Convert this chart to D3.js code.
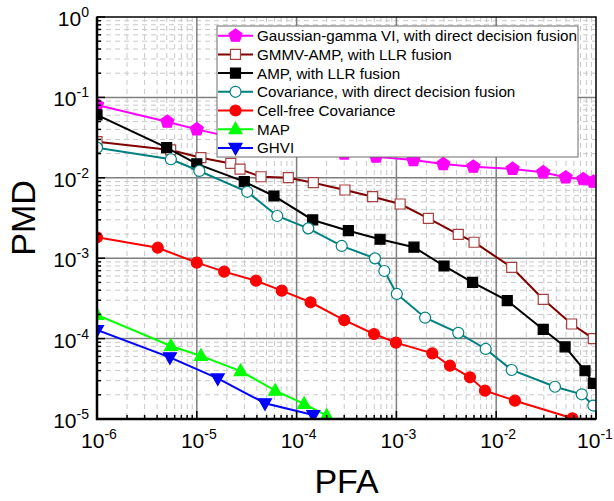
<!DOCTYPE html>
<html lang="en">
<head>
    <meta charset="UTF-8">
    <title>PMD vs PFA</title>
    <script src="https://d3js.org/d3.v7.min.js"></script>
    <style>
        body { margin: 0; background: #fff; }
        text { font-family: "Liberation Sans", Arial, sans-serif; }
    </style>
</head>
<body>
<script>
    const width  = 614;
    const height = 501;
    const mLeft = 97, mRight = 596, mTop = 17, mBottom = 419;

    // series: [PFA, PMD]
    const ggvi = [[1e-6,0.0805],[5.06e-6,0.0499],[1e-5,0.040],[2e-5,0.033],[4e-5,0.028],[8e-5,0.024],
                  [1.6e-4,0.022],[3e-4,0.020],[6.25e-4,0.0183],[1.48e-3,0.0166],[2.95e-3,0.0148],
                  [5.9e-3,0.01374],[0.0146,0.0129],[0.0296,0.0117],[0.0497,0.0101],[0.0746,0.0096],[0.094,0.00895]];
    const gmmv = [[1e-6,0.0281],[5.47e-6,0.0222],[1.1e-5,0.0178],[2.19e-5,0.0151],[2.71e-5,0.0128],
                  [4.4e-5,0.0103],[8.26e-5,0.01003],[1.47e-4,0.00869],[3.05e-4,0.00705],[5.78e-4,0.00582],
                  [1.09e-3,0.00472],[2.09e-3,3.13e-3],[4.17e-3,1.98e-3],[6.0e-3,1.58e-3],[0.0143,7.7e-4],
                  [0.0296,3.08e-4],[0.057,1.52e-4],[0.094,1.0e-4]];
    const amp  = [[1e-6,0.0604],[4.99e-6,0.0237],[1e-5,0.0149],[2.99e-5,8.95e-3],[5.93e-5,5.94e-3],
                  [1.45e-4,2.99e-3],[3.3e-4,2.2e-3],[6.86e-4,1.72e-3],[1.5e-3,1.37e-3],[3.0e-3,8.0e-4],
                  [5.8e-3,5.0e-4],[0.0129,2.96e-4],[0.0296,1.3e-4],[0.049,7.9e-5],[0.0776,3.98e-5],[0.094,2.78e-5]];
    const cov  = [[1e-6,0.0237],[5.5e-6,0.017],[1.06e-5,0.01216],[3.2e-5,6.7e-3],[6.4e-5,3.35e-3],
                  [1.31e-4,2.35e-3],[2.83e-4,1.42e-3],[6.1e-4,9.96e-4],[7.57e-4,6.93e-4],[1.01e-3,3.59e-4],
                  [1.94e-3,1.82e-4],[4.17e-3,1.18e-4],[7.85e-3,7.43e-5],[0.0143,4.07e-5],[0.0388,2.52e-5],
                  [0.072,2.03e-5],[0.094,1.47e-5]];
    const cfCov = [[1e-6,1.82e-3],[4.06e-6,1.35e-3],[1e-5,8.8e-4],[1.88e-5,6.8e-4],[3.92e-5,5.25e-4],
                   [7.1e-5,3.95e-4],[1.38e-4,2.83e-4],[3.0e-4,1.7e-4],[5.97e-4,1.14e-4],[9.9e-4,8.9e-5],
                   [2.29e-3,6.56e-5],[3.44e-3,4.6e-5],[5.46e-3,3.3e-5],[7.72e-3,2.25e-5],[0.0154,1.69e-5],[0.058,1.02e-5]];
    const map  = [[1e-6,1.97e-4],[5.5e-6,8.1e-5],[1.1e-5,6.1e-5],[2.75e-5,3.95e-5],[6.1e-5,2.25e-5],
                  [1.19e-4,1.54e-5],[2.0e-4,1.1e-5]];
    const ghvi = [[1e-6,1.28e-4],[5.38e-6,5.85e-5],[1.62e-5,3.2e-5],[4.82e-5,1.57e-5],[1.47e-4,1.12e-5]];

    const xTickValues = [1e-6,1e-5,1e-4,1e-3,1e-2,1e-1];
    const yTickValues = [1e-5,1e-4,1e-3,1e-2,1e-1,1e0];

    const series = [
        {name: "Gaussian-gamma VI, with direct decision fusion", data: ggvi, color: "#ff00ff", marker: "pentagon", fill: "#ff00ff"},
        {name: "GMMV-AMP, with LLR fusion", data: gmmv, color: "#800000", marker: "square", fill: "#fff", mstroke: "#a84040"},
        {name: "AMP, with LLR fusion", data: amp, color: "#000000", marker: "square", fill: "#000"},
        {name: "Covariance, with direct decision fusion", data: cov, color: "#008080", marker: "circle", fill: "#fff"},
        {name: "Cell-free Covariance", data: cfCov, color: "#ff0000", marker: "circle", fill: "#ff0000"},
        {name: "MAP", data: map, color: "#00ff00", marker: "triUp", fill: "#00ff00"},
        {name: "GHVI", data: ghvi, color: "#0000ff", marker: "triDown", fill: "#0000ff"}
    ];

    const scaleX = d3.scaleLog().domain([1e-6, 1e-1]).range([mLeft, mRight]);
    const scaleY = d3.scaleLog().domain([1e-5, 1]).range([mBottom, mTop]);

    const svg = d3.select("body").append("svg").attr("width", width).attr("height", height);

    svg.append("clipPath").attr("id", "clip")
        .append("rect").attr("x", mLeft).attr("y", mTop).attr("width", mRight - mLeft).attr("height", mBottom - mTop);

    // minor / major values
    const minorX = [], minorY = [];
    for (let e = -6; e < -1; e++) for (let m = 2; m <= 9; m++) minorX.push(m * Math.pow(10, e));
    for (let e = -5; e < 0; e++) for (let m = 2; m <= 9; m++) minorY.push(m * Math.pow(10, e));

    const grid = svg.append("g").attr("class", "grid");
    grid.selectAll(".mx").data(minorX).enter().append("line")
        .attr("x1", d => scaleX(d)).attr("x2", d => scaleX(d))
        .attr("y1", mTop).attr("y2", mBottom)
        .attr("stroke", "#c8c8c8").attr("stroke-width", 1).attr("stroke-dasharray", "5,4");
    grid.selectAll(".my").data(minorY).enter().append("line")
        .attr("y1", d => scaleY(d)).attr("y2", d => scaleY(d))
        .attr("x1", mLeft).attr("x2", mRight)
        .attr("stroke", "#c8c8c8").attr("stroke-width", 1).attr("stroke-dasharray", "5,4");
    grid.selectAll(".Mx").data(xTickValues.slice(1, -1)).enter().append("line")
        .attr("x1", d => scaleX(d)).attr("x2", d => scaleX(d))
        .attr("y1", mTop).attr("y2", mBottom)
        .attr("stroke", "#7f7f7f").attr("stroke-width", 1.5);
    grid.selectAll(".My").data(yTickValues.slice(1, -1)).enter().append("line")
        .attr("y1", d => scaleY(d)).attr("y2", d => scaleY(d))
        .attr("x1", mLeft).attr("x2", mRight)
        .attr("stroke", "#7f7f7f").attr("stroke-width", 1.5);

    // markers
    const pentagon = {
        draw(ctx, size) {
            const r = Math.sqrt(size / 2.378);
            for (let i = 0; i < 5; i++) {
                const a = -Math.PI / 2 + i * 2 * Math.PI / 5;
                const px = r * Math.cos(a), py = r * Math.sin(a);
                if (i === 0) ctx.moveTo(px, py); else ctx.lineTo(px, py);
            }
            ctx.closePath();
        }
    };
    function markerD(type) {
        if (type === "pentagon") return d3.symbol().type(pentagon).size(110)();
        if (type === "square") return "M-5,-5H5V5H-5Z";
        if (type === "circle") return d3.symbol().type(d3.symbolCircle).size(95)();
        if (type === "triUp") return "M0,-7L6.5,4.5L-6.5,4.5Z";
        return "M0,7L6.5,-4.5L-6.5,-4.5Z";
    }

    const line = d3.line().x(d => scaleX(d[0])).y(d => scaleY(d[1]));
    const plot = svg.append("g").attr("clip-path", "url(#clip)");

    series.forEach(s => {
        const g = plot.append("g").datum(s.data);
        g.append("path").attr("d", line).attr("fill", "none")
            .attr("stroke", s.color).attr("stroke-width", 2);
        g.selectAll(".pt").data(s.data).enter().append("path")
            .attr("d", markerD(s.marker))
            .attr("transform", d => "translate(" + [scaleX(d[0]), scaleY(d[1])] + ")")
            .attr("fill", s.fill)
            .attr("stroke", s.mstroke || s.color).attr("stroke-width", 1.2);
    });

    // frame
    svg.append("rect").attr("x", mLeft).attr("y", mTop).attr("width", mRight - mLeft).attr("height", mBottom - mTop)
        .attr("fill", "none").attr("stroke", "#000").attr("stroke-width", 1.5);
    svg.append("line").attr("x1", mLeft).attr("x2", mLeft).attr("y1", mTop).attr("y2", mBottom + 1)
        .attr("stroke", "#000").attr("stroke-width", 2.5);
    svg.append("line").attr("x1", mLeft - 1).attr("x2", mRight).attr("y1", mBottom).attr("y2", mBottom)
        .attr("stroke", "#000").attr("stroke-width", 2.5);

    // inward ticks
    const ticks = svg.append("g");
    ticks.selectAll(".tx").data(minorX).enter().append("line")
        .attr("x1", d => scaleX(d)).attr("x2", d => scaleX(d)).attr("y1", mBottom).attr("y2", mBottom - 4)
        .attr("stroke", "#000").attr("stroke-width", 1.5);
    ticks.selectAll(".Tx").data(xTickValues).enter().append("line")
        .attr("x1", d => scaleX(d)).attr("x2", d => scaleX(d)).attr("y1", mBottom).attr("y2", mBottom - 8)
        .attr("stroke", "#000").attr("stroke-width", 1.5);
    ticks.selectAll(".ty").data(minorY).enter().append("line")
        .attr("y1", d => scaleY(d)).attr("y2", d => scaleY(d)).attr("x1", mLeft).attr("x2", mLeft + 4)
        .attr("stroke", "#000").attr("stroke-width", 1.5);
    ticks.selectAll(".Ty").data(yTickValues).enter().append("line")
        .attr("y1", d => scaleY(d)).attr("y2", d => scaleY(d)).attr("x1", mLeft).attr("x2", mLeft + 8)
        .attr("stroke", "#000").attr("stroke-width", 1.5);

    // tick labels
    const expo = d => Math.round(Math.log10(d));
    const xl = svg.append("g").selectAll("text").data(xTickValues).enter().append("text")
        .attr("x", (d, i) => scaleX(d) + (i === xTickValues.length - 1 ? -1 : 2)).attr("y", 448)
        .attr("text-anchor", "middle").attr("font-size", 21);
    xl.append("tspan").text("10");
    xl.append("tspan").attr("dy", -9).attr("font-size", 14).text(d => String(expo(d)));

    const yl = svg.append("g").selectAll("text").data(yTickValues).enter().append("text")
        .attr("x", 89).attr("y", d => scaleY(d) + 9)
        .attr("text-anchor", "end").attr("font-size", 21);
    yl.append("tspan").text("10");
    yl.append("tspan").attr("dy", -9).attr("font-size", 14).text(d => String(expo(d)));

    // axis titles
    svg.append("text").attr("x", (mLeft + mRight) / 2).attr("y", 493)
        .attr("text-anchor", "middle").attr("font-size", 34).text("PFA");
    svg.append("text").attr("transform", "translate(35," + (mTop + mBottom) / 2 + ") rotate(-90)")
        .attr("text-anchor", "middle").attr("font-size", 34).text("PMD");

    // legend
    const lg = svg.append("g");
    lg.append("rect").attr("x", 217).attr("y", 26).attr("width", 361).attr("height", 131)
        .attr("fill", "#fff").attr("stroke", "#6e6e6e").attr("stroke-width", 1);
    series.forEach((s, i) => {
        const y = 35.7 + i * 18.7;
        lg.append("line").attr("x1", 218).attr("x2", 253).attr("y1", y).attr("y2", y)
            .attr("stroke", s.color).attr("stroke-width", 2);
        lg.append("path").attr("d", markerD(s.marker))
            .attr("transform", "translate(" + [235.5, y] + ")")
            .attr("fill", s.fill).attr("stroke", s.mstroke || s.color).attr("stroke-width", 1.2);
        lg.append("text").attr("x", 257).attr("y", y + 5.5).attr("font-size", 15.2).text(s.name);
    });
</script>
</body>
</html>
